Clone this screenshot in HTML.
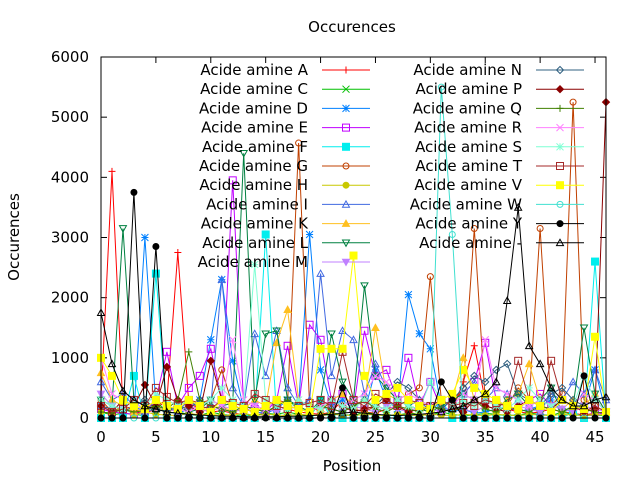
<!DOCTYPE html>
<html><head><meta charset="utf-8"><style>
body{margin:0;background:#fff}
svg{font-family:"DejaVu Sans","Liberation Sans",sans-serif;}
</style></head><body>
<svg id="chart" width="640" height="480" viewBox="0 0 640 480" xmlns="http://www.w3.org/2000/svg">
<rect width="640" height="480" fill="#fff"/>
<text x="352" y="32" font-size="15" text-anchor="middle">Occurences</text>
<text x="352" y="471" font-size="15" text-anchor="middle">Position</text>
<text x="19" y="237" font-size="15" text-anchor="middle" transform="rotate(-90 19 237)">Occurences</text>
<g id="axes"></g>
<g id="series"></g>
<g id="legend"></g>
<rect x="101" y="57" width="505" height="361" fill="none" stroke="#000" stroke-width="1"/>
</svg>
<script>
const yTicks=[0,1000,2000,3000,4000,5000,6000];
const xTicks=[0,5,10,15,20,25,30,35,40,45];
const names=["A","C","D","E","F","G","H","I","K","L","M","N","P","Q","R","S","T","V","W","Y","-"];
const colors=["#ff0000","#00c000","#0080ff","#c000ff","#00eeee","#c04000","#c8c800","#4169e1","#ffc020","#008040","#c080ff","#306080","#8b0000","#408000","#ff80ff","#7fffd4","#a52a2a","#ffff00","#40e0d0","#000000","#000000"];
const markers=["plus","x","star","sq","fsq","circ","fcirc","tri","ftri","itri","fitri","diam","fdiam","plus","x","star","sq","fsq","circ","fcirc","tri"];
const sA=[300,4100,150,100,80,150,300,2750,250,150,100,120,80,60,50,80,200,150,100,80,60,100,300,150,100,80,150,200,100,50,80,100,150,600,1200,300,200,150,100,80,100,150,100,80,50,80,100];
const sC=[100,50,80,60,40,300,80,100,60,40,100,60,40,50,40,80,60,100,60,40,50,80,60,40,100,60,40,50,80,60,40,100,60,40,50,80,60,40,50,80,60,40,100,60,40,50,40];
const sD=[200,100,150,80,3000,200,100,80,150,300,1300,2300,950,150,100,80,150,300,200,3050,800,200,300,150,100,800,300,150,2050,1400,1150,200,100,150,80,100,150,200,100,150,200,300,100,150,200,800,100];
const sE=[150,100,80,60,100,300,1100,200,500,700,1150,300,3950,200,150,100,300,1200,200,1550,1300,300,400,150,1450,700,800,300,1000,200,600,150,300,400,600,1250,300,200,150,300,400,200,300,200,150,100,50];
const sF=[0,0,0,700,0,2400,0,0,0,0,0,0,0,0,0,3050,0,0,0,0,300,0,0,0,0,0,0,0,0,0,0,300,0,0,0,0,0,0,0,0,0,0,0,100,0,2600,0];
const sG=[300,100,200,150,100,200,300,200,300,250,300,800,200,150,100,200,300,250,4570,200,100,300,200,150,100,200,150,300,400,500,2350,300,200,500,3150,300,250,200,500,300,3150,200,400,5250,300,200,100];
const sH=[100,80,200,50,100,60,50,40,80,50,60,40,50,80,40,60,50,40,60,50,40,60,50,40,60,50,40,60,50,40,60,50,40,60,50,40,60,50,40,60,50,40,60,50,40,60,50];
const sI=[600,300,400,200,100,150,200,100,300,150,200,2300,500,200,1400,700,1450,500,200,300,2400,700,1450,1300,400,900,500,300,200,300,100,300,200,400,600,300,500,400,300,200,100,400,300,600,400,800,300];
const sK=[750,300,200,100,150,200,100,150,200,100,150,200,100,150,300,200,1250,1800,300,200,150,300,400,200,300,1500,400,300,200,150,100,200,300,1000,300,200,150,300,400,900,300,200,150,300,200,400,100];
const sL=[300,200,3150,300,200,100,150,200,100,150,300,200,250,4400,300,1400,1450,300,200,100,300,1400,600,300,2200,700,500,300,200,150,100,200,300,400,300,200,150,300,400,200,300,500,100,200,1500,400,100];
const sM=[400,200,150,300,100,200,150,100,200,150,100,200,150,100,200,150,100,200,150,100,200,150,100,200,150,100,200,150,100,200,150,100,200,150,100,200,150,100,200,150,100,200,150,100,200,150,100];
const sN=[200,150,100,200,300,150,100,200,150,300,200,150,100,200,150,100,200,300,150,100,200,150,100,200,300,200,400,600,500,300,200,150,300,500,700,600,800,900,400,300,200,400,500,300,200,300,100];
const sP=[200,100,300,200,550,200,850,300,200,100,950,300,200,150,100,200,300,200,150,100,200,300,200,100,150,200,300,200,100,150,200,300,200,100,300,200,150,100,200,300,200,150,300,200,100,150,5250];
const sQ=[100,80,150,100,120,200,150,300,1100,300,200,150,100,200,150,100,200,300,150,100,200,150,100,200,300,150,100,200,150,100,200,150,100,200,300,150,100,200,150,100,200,150,100,200,150,100,80];
const sR=[1000,400,300,200,150,300,200,150,100,200,300,200,1300,300,200,150,300,200,150,100,200,300,200,300,400,700,600,300,400,300,200,300,200,400,300,1300,500,400,300,200,300,200,300,200,400,300,100];
const sS=[300,200,150,300,200,400,300,200,300,200,300,500,300,200,2550,300,200,150,300,200,150,300,200,150,300,200,150,300,200,150,600,300,200,300,200,300,200,150,300,500,300,200,300,200,700,300,100];
const sT=[200,100,150,300,200,500,350,250,300,200,150,300,250,200,400,300,200,150,200,250,300,200,1100,300,200,400,300,200,300,250,200,300,200,250,200,300,250,200,950,300,200,950,300,200,100,200,100];
const sV=[1000,700,300,200,150,300,200,150,300,200,100,300,200,150,100,200,300,200,150,100,1150,1150,1150,2700,700,300,400,500,300,200,150,300,400,800,500,400,300,200,150,300,200,100,300,200,150,1350,100];
const sW=[0,0,0,0,0,0,0,0,0,0,0,0,0,0,0,0,0,0,0,0,0,0,0,0,0,0,0,0,0,0,0,5500,3050,0,0,0,0,0,0,0,0,0,0,0,0,0,0];
const sY=[0,0,0,3750,0,2850,0,0,0,0,0,0,0,0,0,0,0,0,0,0,0,0,500,0,0,0,0,0,0,0,0,600,300,0,0,0,0,0,0,0,0,0,0,0,700,0,0];
const sDash=[1750,900,450,300,200,150,100,80,60,50,40,30,30,20,20,20,20,30,30,40,50,60,80,100,80,60,50,40,50,60,80,100,150,200,300,400,600,1950,3500,1200,900,500,300,200,200,300,350];
const allSeries=[sA,sC,sD,sE,sF,sG,sH,sI,sK,sL,sM,sN,sP,sQ,sR,sS,sT,sV,sW,sY,sDash];

const NS="http://www.w3.org/2000/svg";
const X0=101,X1=606,Y0=418,Y1=57,XMAX=46,YMAX=6000;
function xs(i){return X0+(X1-X0)*i/XMAX;}
function ys(v){return Y0-(Y0-Y1)*v/YMAX;}
function mk(tag,attrs,parent){const e=document.createElementNS(NS,tag);for(const k in attrs)e.setAttribute(k,attrs[k]);parent.appendChild(e);return e;}
const axes=document.getElementById('axes');
yTicks.forEach(t=>{
  const l=mk('line',{x1:X0,x2:X0+6,y1:ys(t),y2:ys(t),stroke:'#000'},axes);
  
  
  mk('line',{x1:X1,x2:X1-6,y1:ys(t),y2:ys(t),stroke:'#000'},axes);
  const tx=mk('text',{x:X0-12,y:ys(t)+5,'font-size':15,'text-anchor':'end'},axes);
  tx.textContent=t;
  
  
});
xTicks.forEach(t=>{
  const l=mk('line',{x1:xs(t),x2:xs(t),y1:Y0,y2:Y0-6,stroke:'#000'},axes);
  
  
  mk('line',{x1:xs(t),x2:xs(t),y1:Y1,y2:Y1+6,stroke:'#000'},axes);
  const tx=mk('text',{x:xs(t),y:Y0+24,'font-size':15,'text-anchor':'middle'},axes);
  tx.textContent=t;
  
  
});
function marker(type,x,y,c,g){
  const r=3.5,s={stroke:c,fill:'none','stroke-width':1};
  const f={fill:c,stroke:c};
  switch(type){
    case 'plus':mk('path',Object.assign({d:`M${x-r} ${y}H${x+r}M${x} ${y-r}V${y+r}`},s),g);break;
    case 'x':mk('path',Object.assign({d:`M${x-r} ${y-r}L${x+r} ${y+r}M${x-r} ${y+r}L${x+r} ${y-r}`},s),g);break;
    case 'star':mk('path',Object.assign({d:`M${x-r} ${y}H${x+r}M${x} ${y-r}V${y+r}M${x-r} ${y-r}L${x+r} ${y+r}M${x-r} ${y+r}L${x+r} ${y-r}`},s),g);break;
    case 'sq':mk('rect',Object.assign({x:x-r,y:y-r,width:2*r,height:2*r},s),g);break;
    case 'fsq':mk('rect',Object.assign({x:x-r,y:y-r,width:2*r,height:2*r},f),g);break;
    case 'circ':mk('circle',Object.assign({cx:x,cy:y,r:r-0.5},s),g);break;
    case 'fcirc':mk('circle',Object.assign({cx:x,cy:y,r:r-0.5},f),g);break;
    case 'tri':mk('path',Object.assign({d:`M${x-r} ${y+r*0.8}L${x+r} ${y+r*0.8}L${x} ${y-r}Z`},s),g);break;
    case 'ftri':mk('path',Object.assign({d:`M${x-r} ${y+r*0.8}L${x+r} ${y+r*0.8}L${x} ${y-r}Z`},f),g);break;
    case 'itri':mk('path',Object.assign({d:`M${x-r} ${y-r*0.8}L${x+r} ${y-r*0.8}L${x} ${y+r}Z`},s),g);break;
    case 'fitri':mk('path',Object.assign({d:`M${x-r} ${y-r*0.8}L${x+r} ${y-r*0.8}L${x} ${y+r}Z`},f),g);break;
    case 'diam':mk('path',Object.assign({d:`M${x-r} ${y}L${x} ${y-r}L${x+r} ${y}L${x} ${y+r}Z`},s),g);break;
    case 'fdiam':mk('path',Object.assign({d:`M${x-r} ${y}L${x} ${y-r}L${x+r} ${y}L${x} ${y+r}Z`},f),g);break;
  }
}
const sg=document.getElementById('series');
allSeries.forEach((vals,k)=>{
  const g=mk('g',{},sg);
  
  
  const d=vals.map((v,i)=>(i?'L':'M')+xs(i).toFixed(1)+' '+ys(v).toFixed(1)).join('');
  mk('path',{d:d,fill:'none',stroke:colors[k],'stroke-width':1},g);
  vals.forEach((v,i)=>marker(markers[k],xs(i),ys(v),colors[k],g));
});
const lg=document.getElementById('legend');
names.forEach((n,k)=>{
  const col=k<11?0:1,row=k<11?k:k-11;
  const y=70+row*19.2;
  const tx=col?522:308,lx=col?536:322;
  const g=mk('g',{},lg);
  
  
  const t=mk('text',{x:tx,y:y+5,'font-size':15,'text-anchor':'end'},g);
  t.textContent='Acide amine '+n;
  mk('line',{x1:lx,x2:lx+48,y1:y,y2:y,stroke:colors[k]},g);
  marker(markers[k],lx+24,y,colors[k],g);
});
</script>
</body></html>
